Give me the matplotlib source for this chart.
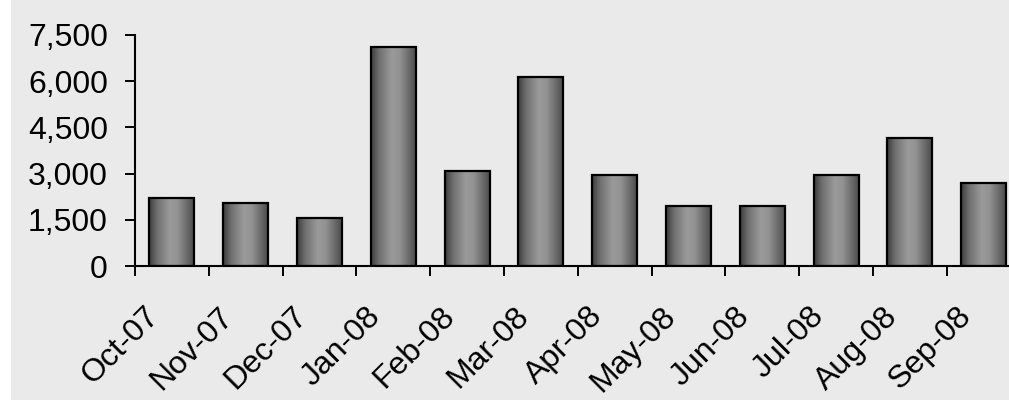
import numpy as np
import matplotlib
matplotlib.use("Agg")
import matplotlib.pyplot as plt
from matplotlib.colors import LinearSegmentedColormap
from matplotlib.patches import Rectangle
from matplotlib.ticker import FuncFormatter
from matplotlib.transforms import ScaledTranslation

months = ["Oct-07", "Nov-07", "Dec-07", "Jan-08", "Feb-08", "Mar-08",
          "Apr-08", "May-08", "Jun-08", "Jul-08", "Aug-08", "Sep-08"]
volumes = [2200, 2050, 1550, 7100, 3100, 6150, 2950, 1950, 1950, 2950, 4150, 2700]
y_ticks = [0, 1500, 3000, 4500, 6000, 7500]

plt.rcParams["font.family"] = ["Liberation Sans", "DejaVu Sans"]
FS = 23

W, H = 1009, 400
fig = plt.figure(figsize=(W / 100, H / 100), dpi=100)
fig.patch.set_facecolor("#eaeaea")
fig.patches.append(Rectangle((0, 0), 11 / W, 1, transform=fig.transFigure,
                             facecolor="white", edgecolor="none", zorder=-10))

step = 73.8
ax = fig.add_axes([135 / W, (H - 266) / H, 12 * step / W, 231 / H])
ax.set_facecolor("none")

x = np.arange(len(months))
bars = ax.bar(x, volumes, width=0.61, facecolor="none", edgecolor="black",
              linewidth=1.6, zorder=3)

# cylindrical grey shading inside each bar
shade = LinearSegmentedColormap.from_list(
    "cyl", [(0.0, "#3c3c3c"), (0.18, "#707070"), (0.45, "#9a9a9a"),
            (0.62, "#939393"), (0.85, "#666666"), (1.0, "#484848")])
grad = np.linspace(0, 1, 256).reshape(1, -1)
for b in bars:
    bx, bw, bh = b.get_x(), b.get_width(), b.get_height()
    ax.imshow(grad, cmap=shade, extent=[bx, bx + bw, 0, bh],
              aspect="auto", interpolation="bilinear", zorder=2)

ax.set_xlim(-0.5, len(months) - 0.5)
ax.set_ylim(0, 7500)
ax.set_yticks(y_ticks)
ax.yaxis.set_major_formatter(FuncFormatter(lambda v, p: f"{int(v):,}"))

# boundary ticks between categories; month labels drawn at category centres
ax.set_xticks(np.arange(len(months) + 1) - 0.5)
ax.set_xticklabels([])
label_shift = ScaledTranslation(-17 / 100, -46 / 100, fig.dpi_scale_trans)
for i, m in enumerate(months):
    ax.text(i, 0, m, transform=ax.get_xaxis_transform() + label_shift,
            rotation=45, ha="right", va="center", rotation_mode="anchor",
            fontsize=FS, clip_on=False)

ax.tick_params(axis="x", which="major", direction="out", length=7.5,
               width=1.4, color="black")
ax.tick_params(axis="y", direction="out", length=7.5, width=1.4,
               labelsize=FS, pad=12, color="black")

for s in ("top", "right"):
    ax.spines[s].set_visible(False)
for s in ("left", "bottom"):
    ax.spines[s].set_linewidth(1.5)
    ax.spines[s].set_color("black")

fig.savefig("out.png", dpi=100, facecolor=fig.get_facecolor())
